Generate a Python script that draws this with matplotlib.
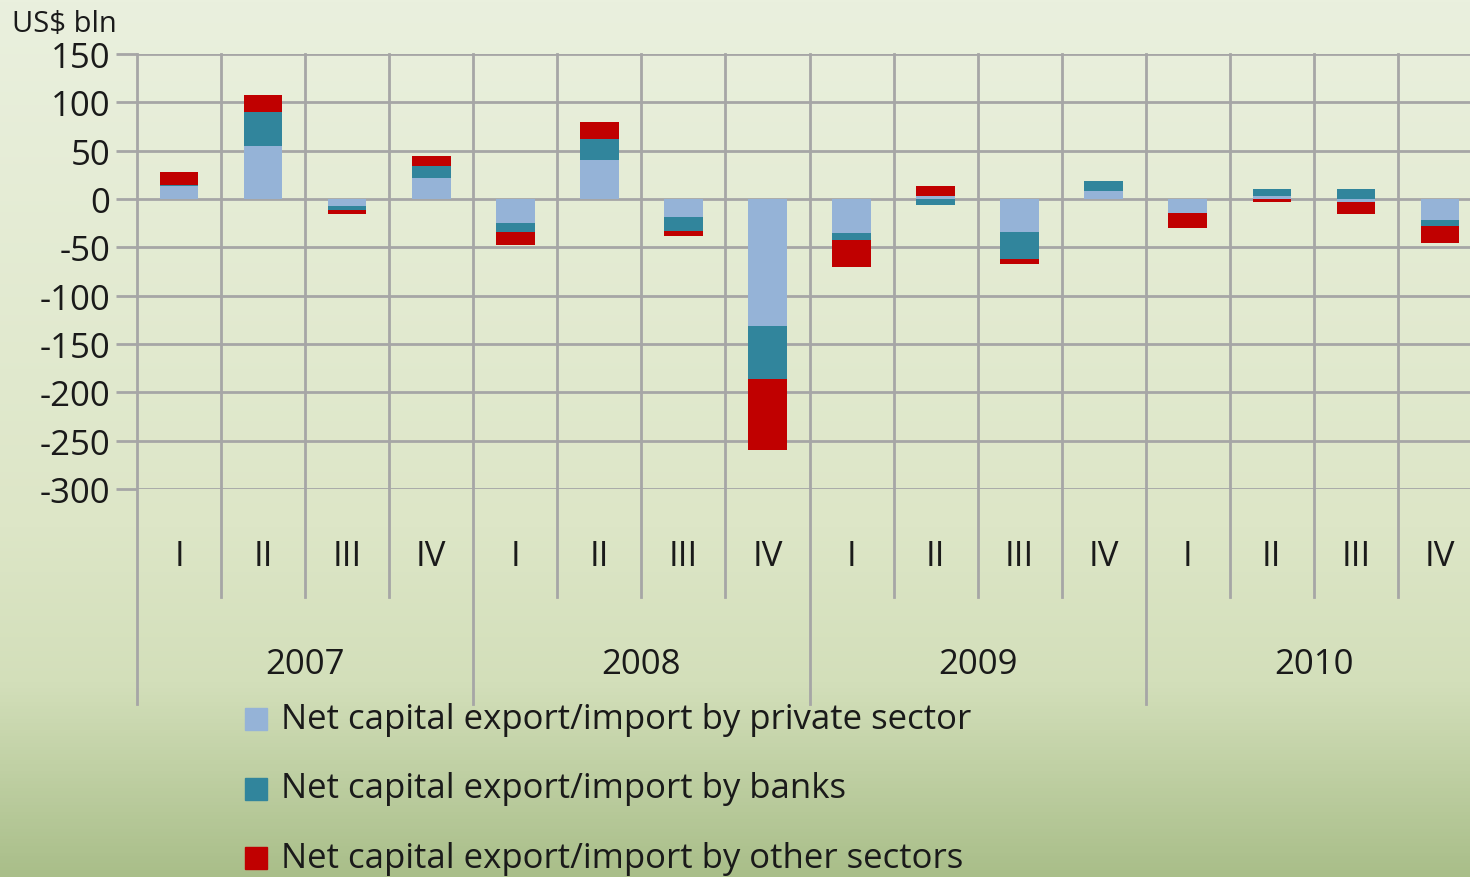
import numpy as np
import matplotlib.pyplot as plt
from matplotlib.colors import LinearSegmentedColormap
from matplotlib.patches import Rectangle

plt.rcParams['font.family'] = ['Open Sans', 'DejaVu Sans']
plt.rcParams['axes.unicode_minus'] = False

# data (US$ bln)
years = ['2007', '2008', '2009', '2010']
quarters = ['I', 'II', 'III', 'IV']
private = [13, 55, -7, 22, -25, 40, -19, -131, -35, 3, -34, 8, -14, 3, -3, -22]
banks = [1, 35, -4, 12, -9, 22, -14, -55, -7, -6, -28, 11, -0.5, 7, 10, -6]
other = [14, 18, -4, 10, -14, 18, -5, -74, -28, 10, -5, 0, -16, -3, -13, -18]
series_names = ['Net capital export/import by private sector',
                'Net capital export/import by banks',
                'Net capital export/import by other sectors']
colors = ['#95b3d7', '#31859c', '#c00000']

W, H = 1470, 878
fig = plt.figure(figsize=(W / 100, H / 100), dpi=100)

# gradient background
bg = fig.add_axes([0, 0, 1, 1], zorder=-5)
cmap = LinearSegmentedColormap.from_list('bg', [(0, '#eaf0de'), (0.6, '#dde6c7'),
                                                (0.78, '#d3dfba'), (1, '#a9be89')])
bg.imshow(np.linspace(0, 1, 256).reshape(-1, 1), aspect='auto', cmap=cmap,
          extent=[0, 1, 0, 1], origin='upper')
bg.axis('off')

left, right, top, bot = 137, 1482, 55, 490
ax = fig.add_axes([left / W, 1 - bot / H, (right - left) / W, (bot - top) / H])
ax.set_facecolor('none')

n = len(private)
x = np.arange(n)
pos_base = np.zeros(n)
neg_base = np.zeros(n)
for vals, c, name in zip([private, banks, other], colors, series_names):
    v = np.array(vals, dtype=float)
    base = np.where(v >= 0, pos_base, neg_base)
    ax.bar(x, v, bottom=base, width=0.46, color=c, label=name, zorder=3)
    pos_base += np.where(v >= 0, v, 0)
    neg_base += np.where(v < 0, v, 0)

ax.set_xlim(-0.5, n - 0.5)
ax.set_ylim(-300, 150)
ax.set_yticks(np.arange(-300, 151, 50))
ax.tick_params(axis='y', labelsize=25, length=15, width=2, color='#a6a6a6',
               direction='out', pad=4, labelcolor='#1a1a1a')
ax.set_xticks([])
for s in ax.spines.values():
    s.set_visible(False)
ax.yaxis.grid(True, color='#a6a6a6', linewidth=2, zorder=1)

gc = '#a6a6a6'
tr = ax.get_xaxis_transform()
q_bot = (bot - 598) / (bot - top)
y_bot = (bot - 705) / (bot - top)
for b in np.arange(-0.5, n, 1):
    k = int(b + 0.5)
    yb = y_bot if k % 4 == 0 else q_bot
    ax.plot([b, b], [1, yb], transform=tr, color=gc, lw=2, clip_on=False, zorder=1)

q_y = (bot - 557) / (bot - top)
yr_y = (bot - 665) / (bot - top)
for i in range(n):
    ax.text(i, q_y, quarters[i % 4], transform=tr, ha='center', va='center',
            fontsize=25, color='#1a1a1a')
for j, yr in enumerate(years):
    ax.text(4 * j + 1.5, yr_y, yr, transform=tr, ha='center', va='center',
            fontsize=25, color='#1a1a1a')

fig.text(12 / W, 1 - 25 / H, 'US$ bln', fontsize=21, va='center', ha='left', color='#1a1a1a')

# legend
for k, (name, c) in enumerate(zip(series_names, colors)):
    yy = 720 + k * 69.5
    fig.patches.append(Rectangle((245 / W, 1 - (yy + 11) / H), 22 / W, 22 / H,
                                 transform=fig.transFigure, color=c, zorder=5))
    fig.text(281 / W, 1 - yy / H, name, fontsize=25, va='center', ha='left',
             color='#1a1a1a')

fig.savefig('out.png', dpi=100)
